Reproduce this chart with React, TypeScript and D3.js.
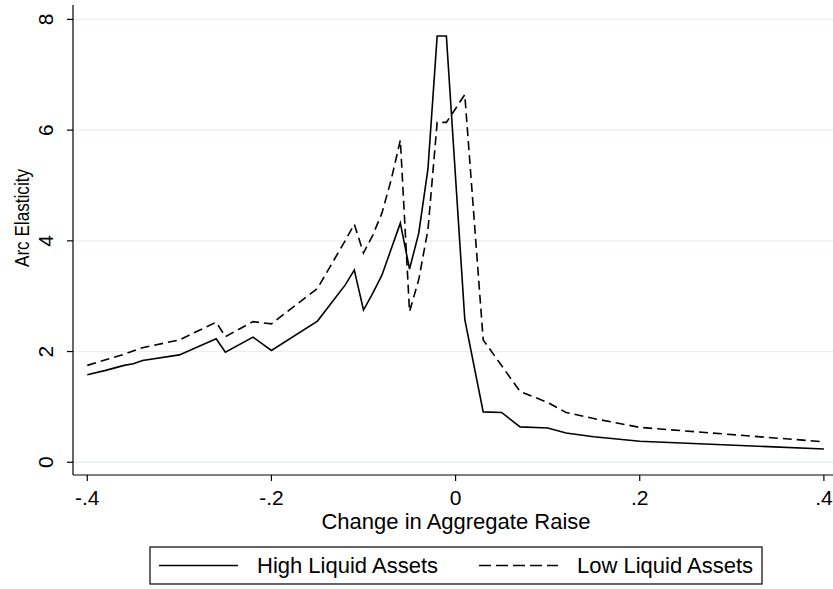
import React from "react";
import * as d3 from "d3";

// Change in aggregate raise (x) for each series
const highX = [-0.4, -0.38, -0.36, -0.35, -0.34, -0.3, -0.26, -0.25, -0.22, -0.2, -0.15, -0.12, -0.11, -0.1, -0.09, -0.08, -0.06, -0.05, -0.04, -0.03, -0.02, -0.01, 0.01, 0.03, 0.05, 0.07, 0.1, 0.12, 0.15, 0.2, 0.4];
const highY = [1.58, 1.66, 1.75, 1.78, 1.84, 1.94, 2.23, 1.99, 2.26, 2.02, 2.55, 3.2, 3.47, 2.75, 3.05, 3.38, 4.32, 3.49, 4.14, 5.3, 7.7, 7.7, 2.58, 0.91, 0.9, 0.64, 0.62, 0.53, 0.46, 0.38, 0.24];

const lowX = [-0.4, -0.38, -0.36, -0.34, -0.3, -0.26, -0.25, -0.22, -0.2, -0.15, -0.12, -0.11, -0.1, -0.09, -0.08, -0.07, -0.06, -0.05, -0.04, -0.03, -0.02, -0.01, 0.01, 0.03, 0.07, 0.1, 0.12, 0.15, 0.2, 0.4];
const lowY = [1.75, 1.85, 1.95, 2.07, 2.21, 2.53, 2.27, 2.54, 2.5, 3.14, 4.0, 4.3, 3.78, 4.1, 4.5, 5.1, 5.82, 2.72, 3.3, 4.2, 6.14, 6.14, 6.64, 2.21, 1.28, 1.08, 0.9, 0.79, 0.63, 0.37];

const xTicks = [-0.4, -0.2, 0, 0.2, 0.4];
const xTickLabels = ["-.4", "-.2", "0", ".2", ".4"];
const yTicks = [0, 2, 4, 6, 8];
const yTickLabels = ["0", "2", "4", "6", "8"];

const seriesNames = ["High Liquid Assets", "Low Liquid Assets"];

const W = 833;
const H = 589;
const plot = { left: 73, right: 833, top: 5, bottom: 475 };
const FONT = "'Liberation Sans', Arial, Helvetica, sans-serif";

export default function App() {
  const x = d3.scaleLinear().domain([-0.4155, 0.4099]).range([plot.left, plot.right]);
  const y = d3.scaleLinear().domain([-0.23, 8.26]).range([plot.bottom, plot.top]);

  const line = d3
    .line<[number, number]>()
    .x((d) => x(d[0]))
    .y((d) => y(d[1]));

  const highPath = line(highX.map((v, i) => [v, highY[i]] as [number, number])) || "";
  const lowPath = line(lowX.map((v, i) => [v, lowY[i]] as [number, number])) || "";

  return (
    <svg
      width={W}
      height={H}
      style={{ position: "absolute", left: 0, top: 0, background: "#fff" }}
      fontFamily={FONT}
    >
      <rect x={0} y={0} width={W} height={H} fill="#fff" />
      {/* horizontal gridlines */}
      {yTicks.map((t) => (
        <line
          key={"g" + t}
          x1={plot.left}
          x2={plot.right}
          y1={y(t)}
          y2={y(t)}
          stroke="#e8eff1"
          strokeWidth={1.3}
        />
      ))}

      {/* series */}
      <path d={highPath} fill="none" stroke="#000" strokeWidth={1.6} strokeLinejoin="miter" />
      <path d={lowPath} fill="none" stroke="#000" strokeWidth={1.6} strokeDasharray="9,5" />

      {/* y axis */}
      <line x1={plot.left} x2={plot.left} y1={plot.top} y2={plot.bottom} stroke="#000" strokeWidth={1.2} />
      {yTicks.map((t, i) => (
        <g key={"y" + t}>
          <line x1={plot.left - 6} x2={plot.left} y1={y(t)} y2={y(t)} stroke="#000" strokeWidth={1.2} />
          <text
            transform={`translate(${plot.left - 20},${y(t)}) rotate(-90)`}
            textAnchor="middle"
            fontSize={21}
            fill="#000"
          >
            {yTickLabels[i]}
          </text>
        </g>
      ))}
      <text
        transform={`translate(${29},${218}) rotate(-90)`}
        textAnchor="middle"
        fontSize={21}
        textLength={98}
        lengthAdjust="spacingAndGlyphs"
        fill="#000"
      >
        Arc Elasticity
      </text>

      {/* x axis */}
      <line x1={plot.left} x2={plot.right} y1={plot.bottom} y2={plot.bottom} stroke="#000" strokeWidth={1.2} />
      {xTicks.map((t, i) => (
        <g key={"x" + t}>
          <line x1={x(t)} x2={x(t)} y1={plot.bottom} y2={plot.bottom + 6} stroke="#000" strokeWidth={1.2} />
          <text x={x(t)} y={505} textAnchor="middle" fontSize={21} fill="#000">
            {xTickLabels[i]}
          </text>
        </g>
      ))}
      <text x={456} y={529} textAnchor="middle" fontSize={22} fill="#000">
        Change in Aggregate Raise
      </text>

      {/* legend */}
      <rect x={150} y={547} width={612} height={37} fill="#fff" stroke="#000" strokeWidth={1.2} />
      <line x1={159} x2={238} y1={565.5} y2={565.5} stroke="#000" strokeWidth={1.6} />
      <text x={257} y={573} fontSize={22} fill="#000">
        {seriesNames[0]}
      </text>
      <line x1={479} x2={558} y1={565.5} y2={565.5} stroke="#000" strokeWidth={1.6} strokeDasharray="12,5" />
      <text x={577} y={573} fontSize={22} fill="#000">
        {seriesNames[1]}
      </text>
    </svg>
  );
}
